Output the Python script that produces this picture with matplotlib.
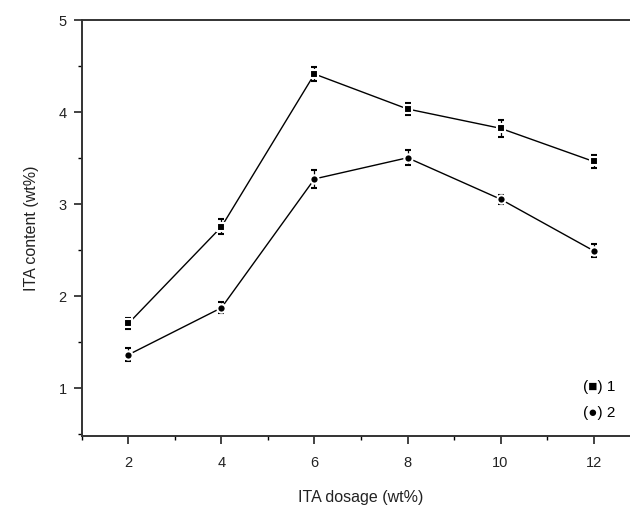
import numpy as np
import matplotlib.pyplot as plt
from matplotlib.ticker import MultipleLocator

plt.rcParams['font.family'] = ['Liberation Sans', 'DejaVu Sans']

# data
dosage = [2, 4, 6, 8, 10, 12]
content_1 = [1.70, 2.75, 4.41, 4.03, 3.82, 3.46]
err_1 = [0.06, 0.08, 0.08, 0.07, 0.09, 0.07]
content_2 = [1.36, 1.87, 3.27, 3.50, 3.05, 2.49]
err_2 = [0.07, 0.06, 0.10, 0.08, 0.05, 0.07]

fig = plt.figure(figsize=(6.3, 5.1), dpi=100)
ax = fig.add_axes([0.130, 0.1437, 0.886, 0.8157])

for y, e, m, s in [(content_1, err_1, 's', 5.5), (content_2, err_2, 'o', 6)]:
    ax.errorbar(dosage, y, yerr=e, color='black', lw=1.0, marker=m, ms=s,
                mfc='black', mec='white', mew=1.5, capsize=2.5, elinewidth=0.9,
                capthick=0.9)

ax.set_xlim(1, 13)
ax.set_ylim(0.48, 5)
ax.xaxis.set_major_locator(MultipleLocator(2))
ax.xaxis.set_minor_locator(MultipleLocator(1))
ax.yaxis.set_major_locator(MultipleLocator(1))
ax.yaxis.set_minor_locator(MultipleLocator(0.5))
ax.tick_params(which='major', direction='out', length=6, width=1.2,
               labelsize=10.5, colors='#222222')
ax.tick_params(axis='x', which='major', pad=8)
ax.tick_params(axis='y', which='major', pad=5)
ax.tick_params(which='minor', direction='out', length=3, width=1.0)
ax.spines['right'].set_visible(False)
for s in ['left', 'bottom', 'top']:
    ax.spines[s].set_linewidth(1.4)
    ax.spines[s].set_color('#333333')

ax.set_xlabel('ITA dosage (wt%)', fontsize=11.5, labelpad=14, color='#222222')
ax.set_ylabel('ITA content (wt%)', fontsize=11.5, labelpad=14, color='#222222')

ax.text(11.78, 1.02, '(\u25a0) 1', fontsize=11, va='center', ha='left')
ax.text(11.78, 0.74, '(\u25cf) 2', fontsize=11, va='center', ha='left')

fig.savefig('out.png', dpi=100)
